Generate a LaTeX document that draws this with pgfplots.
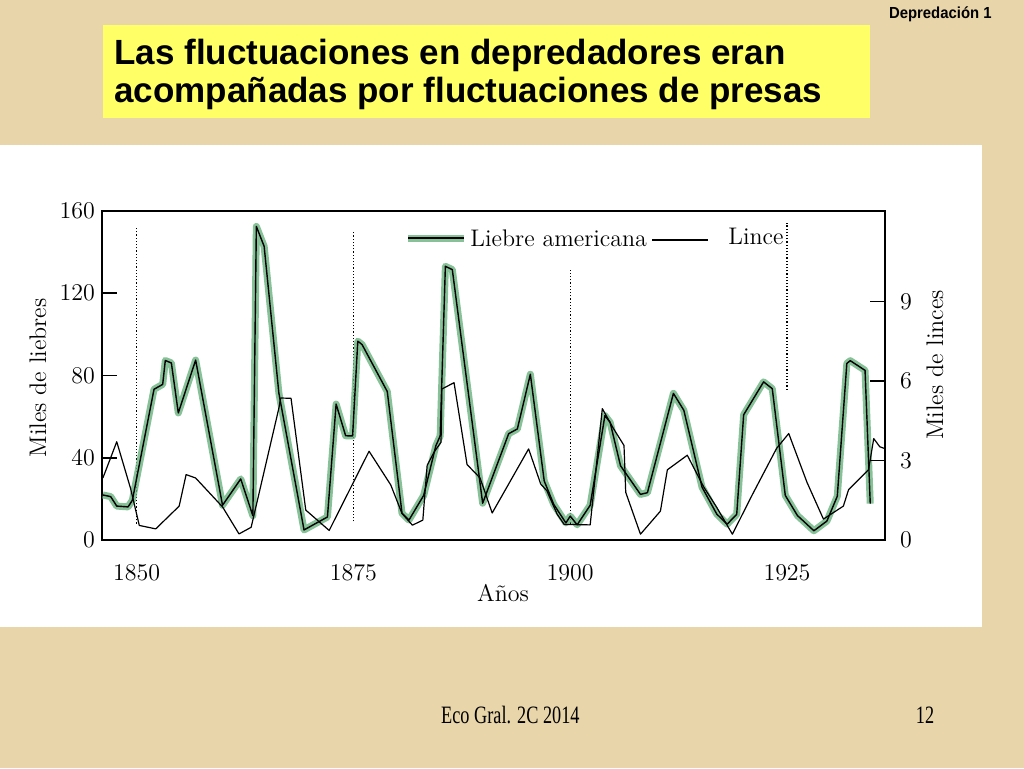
\documentclass[border=0pt]{standalone}
\usepackage{fontspec}
\usepackage{pgfplots}
\pgfplotsset{compat=1.18}
\usepackage{pgfplotstable}
\newfontfamily\arialf{Liberation Sans}
\newfontfamily\timesf{Liberation Serif}
\definecolor{bg}{RGB}{232,213,170}
\definecolor{ttl}{RGB}{255,255,102}
\definecolor{hare}{RGB}{105,178,126}

\pgfplotstableread{
year hare
1846.1 21.9
1847.0 21.1
1847.7 16.5
1849.0 16.1
1849.5 19.3
1852.0 73.3
1853.0 75.7
1853.3 87.3
1854.0 86.1
1854.8 61.8
1856.8 87.5
1859.9 16.9
1862.0 29.7
1863.4 11.8
1863.8 152.5
1864.7 142.8
1866.4 71.4
1869.3 4.9
1872.0 11.2
1873.0 66.1
1874.1 50.7
1874.9 50.6
1875.5 96.7
1876.0 95.0
1878.9 72.2
1880.6 13.0
1881.4 9.7
1883.1 21.7
1884.5 45.8
1885.0 50.6
1885.6 133.1
1886.4 131.5
1889.9 17.9
1892.9 51.7
1893.9 54.0
1895.4 80.6
1897.0 28.7
1898.1 17.3
1899.5 8.3
1900.0 11.6
1900.8 7.4
1902.3 16.9
1904.0 60.5
1904.6 57.2
1905.8 36.1
1908.1 22.2
1908.9 23.0
1911.9 71.3
1913.1 63.1
1915.2 25.7
1916.9 12.6
1918.1 7.7
1919.2 12.5
1920.0 60.9
1922.3 76.9
1923.3 73.6
1924.8 21.7
1926.2 11.9
1928.1 4.5
1929.6 9.2
1930.8 21.3
1931.9 85.9
1932.3 87.2
1934.0 82.5
1934.6 17.7
}\haretable

\pgfplotstableread{
year lynx
1846.1 2.34
1846.9 3.02
1847.7 3.71
1849.3 1.94
1850.3 0.55
1852.2 0.42
1854.9 1.28
1855.7 2.47
1856.8 2.34
1859.9 1.25
1861.8 0.23
1863.2 0.48
1866.4 4.98
1866.6 5.36
1867.8 5.35
1869.5 1.13
1872.2 0.36
1876.8 3.35
1879.3 2.08
1880.6 1.00
1881.8 0.56
1883.0 0.75
1883.5 2.82
1884.3 3.32
1885.1 3.69
1885.2 5.70
1886.6 5.94
1888.1 2.85
1889.6 2.34
1891.0 1.02
1895.2 3.44
1896.6 2.11
1897.3 1.86
1898.5 0.97
1899.3 0.59
1902.3 0.57
1903.7 4.96
1905.0 4.20
1906.2 3.57
1906.4 1.80
1908.1 0.22
1910.4 1.09
1911.2 2.65
1913.5 3.20
1915.4 2.00
1916.9 1.23
1918.7 0.22
1921.0 1.71
1923.8 3.46
1925.2 4.02
1927.3 2.18
1929.2 0.79
1931.5 1.28
1932.1 1.90
1934.4 2.65
1935.0 3.83
1935.7 3.52
1936.3 3.45
}\lynxtable

\begin{document}
\begin{tikzpicture}
\useasboundingbox (0,0) rectangle (512pt,384pt);
\fill[bg] (0,0) rectangle (512pt,384pt);
\fill[white] (0,70.5pt) rectangle (491pt,311.5pt);
\fill[ttl] (51.5pt,325pt) rectangle (435pt,371.5pt);
\node[anchor=base west, font=\arialf\bfseries\fontsize{17.5}{20}\selectfont, inner sep=0] at (57pt,351.9pt) {Las fluctuaciones en depredadores eran};
\node[anchor=base west, font=\arialf\bfseries\fontsize{17.5}{20}\selectfont, inner sep=0] at (57pt,332.9pt) {acompañadas por fluctuaciones de presas};
\node[anchor=base east, font=\arialf\bfseries\fontsize{8}{9}\selectfont, inner sep=0] at (496pt,374.9pt) {\scalebox{0.93}[1]{Depredación 1}};
\node[anchor=base, font=\timesf\fontsize{12.5}{14}\selectfont, inner sep=0] at (255.2pt,22.3pt) {\scalebox{0.73}[1]{Eco Gral. 2C 2014}};
\node[anchor=base, font=\timesf\fontsize{12.5}{14}\selectfont, inner sep=0] at (462.5pt,22.3pt) {\scalebox{0.73}[1]{12}};

\begin{axis}[at={(51pt,114pt)}, anchor=south west, width=391.5pt, height=164.5pt, scale only axis,
  xmin=1846, xmax=1936.3, ymin=0, ymax=160,
  xtick={1850,1875,1900,1925}, xtick style={draw=none}, xtick pos=bottom,
  ytick={0,40,80,120,160}, ytick pos=left, tick align=inside, major tick length=7.5pt,
  tick style={line width=0.8pt, black},
  axis line style={line width=0.8pt},
  tick label style={font=\fontsize{12}{14}\selectfont},
  xticklabel style={yshift=-9pt, /pgf/number format/1000 sep={}},
  clip=false]
\draw[densely dotted, line width=0.6pt] (axis cs:1850,8) -- (axis cs:1850,152);
\draw[densely dotted, line width=0.6pt] (axis cs:1875,9) -- (axis cs:1875,150);
\draw[densely dotted, line width=0.6pt] (axis cs:1900,8) -- (axis cs:1900,132);
\draw[densely dotted, line width=0.6pt] (axis cs:1925,73) -- (axis cs:1925,154);
\addplot[hare, line width=3.5pt, opacity=0.8, line join=round] table[x=year,y=hare] {\haretable};
\addplot[black, line width=0.7pt, line join=round] table[x=year,y=hare] {\haretable};
\end{axis}

\begin{axis}[at={(51pt,114pt)}, anchor=south west, width=391.5pt, height=164.5pt, scale only axis,
  xmin=1846, xmax=1936.3, ymin=0, ymax=12.42,
  axis x line=none, axis y line*=right,
  ytick={0,3,6,9}, tick align=inside, major tick length=7.5pt,
  tick style={line width=0.8pt, black},
  axis line style={line width=0.8pt},
  tick label style={font=\fontsize{12}{14}\selectfont},
  yticklabel style={xshift=4pt},
  clip=false]
\addplot[black, line width=0.6pt, line join=round] table[x=year,y=lynx] {\lynxtable};
\end{axis}

% legend
\draw[hare, line width=3.5pt, opacity=0.8] (204pt,265pt) -- (232pt,265pt);
\draw[black, line width=0.7pt] (204pt,265pt) -- (232pt,265pt);
\node[anchor=base west, font=\fontsize{12}{14}\selectfont, inner sep=0] at (235pt,261pt) {Liebre americana};
\draw[black, line width=0.6pt] (326pt,264pt) -- (354pt,264pt);
\node[anchor=base west, font=\fontsize{12}{14}\selectfont, inner sep=0] at (364pt,262pt) {Lince};

% axis labels
\node[rotate=90, font=\fontsize{12}{14}\selectfont] at (19pt,195pt) {Miles de liebres};
\node[rotate=90, font=\fontsize{12}{14}\selectfont] at (467.5pt,201.5pt) {Miles de linces};
\node[font=\fontsize{12}{14}\selectfont] at (251.5pt,87.5pt) {Años};
\end{tikzpicture}
\end{document}
